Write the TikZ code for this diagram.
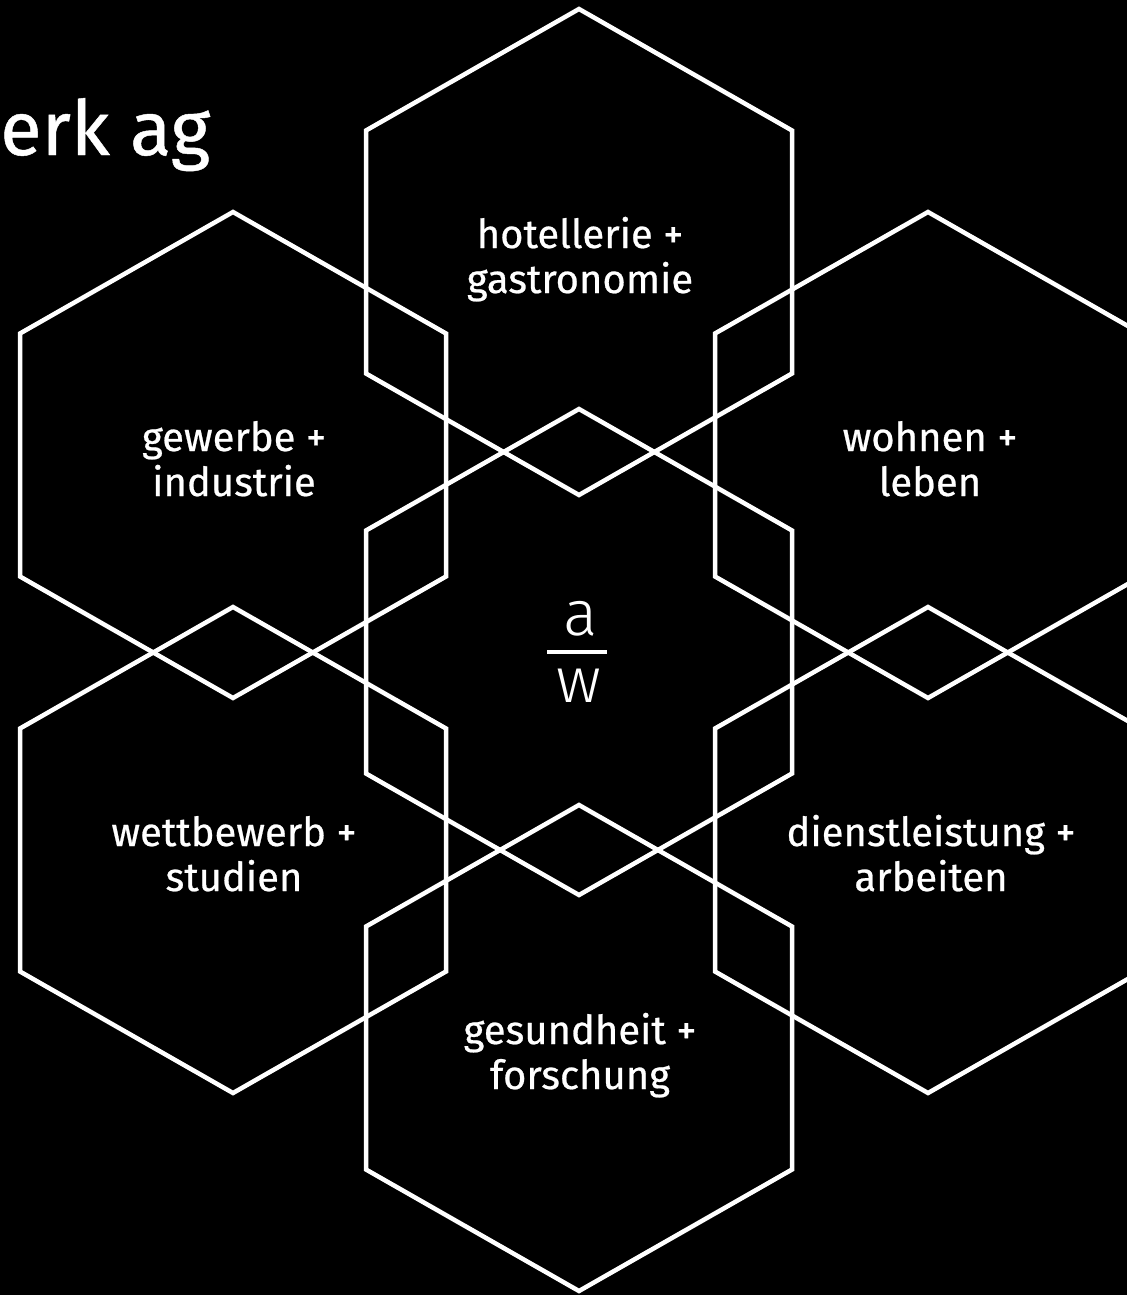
\documentclass[tikz,border=0pt]{standalone}
\usepackage{fontspec}
\setmainfont{Fira Sans}
\newfontfamily\lightfont{Fira Sans Light}
\newfontfamily\lblfont{Fira Sans}[FakeBold=0.6]
\newcommand\twolines[2]{\begin{tabular}[t]{@{}c@{}}#1\\#2\end{tabular}}
\newcommand\hexat[3]{%
  \coordinate (#1) at (#2,#3);
  \draw[hexline] ([shift={(0,-243)}]#1) -- ++(213,121.5) -- ++(0,243) -- ++(-213,121.5) -- ++(-213,-121.5) -- ++(0,-243) -- cycle;
}
\begin{document}
\begin{tikzpicture}[x=1pt,y=-1pt,
  hexline/.style={draw=white, line width=4.5pt, line join=miter},
  lbl/.style={text=white, font=\lblfont\fontsize{40}{45}\selectfont, anchor=base, inner sep=0pt},
  frac/.style={text=white, font=\lightfont\fontsize{64}{70}\selectfont, anchor=base, inner sep=0pt}]
\fill[black] (0,0) rectangle (1127,1295);
\useasboundingbox (0,0) rectangle (1127,1295);

\hexat{top}{579}{252}
\hexat{ul}{233}{455}
\hexat{ur}{928}{455}
\hexat{mid}{579}{652}
\hexat{ll}{233}{850}
\hexat{lr}{928}{850}
\hexat{bot}{579}{1048}

\node[text=white, font=\lblfont\fontsize{76}{85}\selectfont, anchor=base west, inner sep=0pt] (title) at (0,155) {erk ag};

\node[lbl] (ltop) at (580,248) {\twolines{hotellerie +}{gastronomie}};
\node[lbl] (lul) at (234,451) {\twolines{gewerbe +}{industrie}};
\node[lbl] (lur) at (930,451) {\twolines{wohnen +}{leben}};
\node[lbl] (lll) at (234,846) {\twolines{wettbewerb +}{studien}};
\node[lbl] (llr) at (931,846) {\twolines{dienstleistung +}{arbeiten}};
\node[lbl] (lbot) at (580,1044) {\twolines{gesundheit +}{forschung}};

\node[frac] (fa) at (581,635) {a};
\coordinate (fl) at (547,652);
\coordinate (fr) at (607,652);
\draw[white, line width=4.5pt] (fl) -- (fr);
\node[frac] (fw) at (579,702) {w};
\end{tikzpicture}
\end{document}
